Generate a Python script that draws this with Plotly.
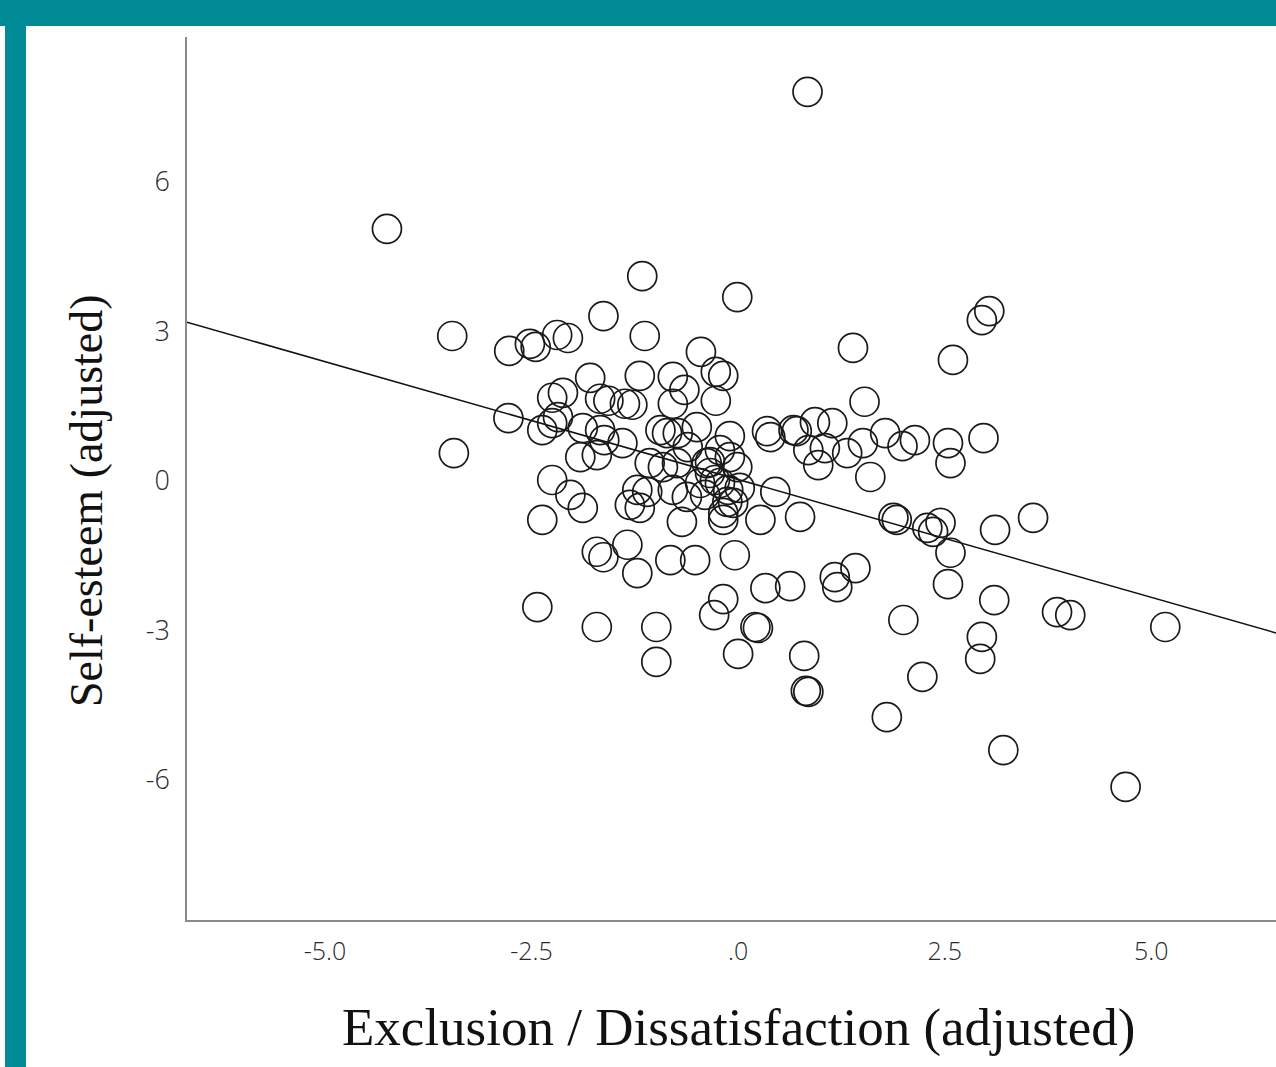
import plotly.graph_objects as go

# ---- data ----
exclusion = [
    0.84, -4.25, -3.46, -3.44, -1.16, -0.01, -1.63, -1.13,
    -2.77, -2.52, -2.45, -2.19, -2.06, -0.45, 1.39, 2.60, 2.95, 3.04,
    -1.79, -1.19, -0.79, -0.65, -0.27, -0.18,
    -2.25, -2.12, -1.67, -1.57, -1.37, -1.28, -0.79, -0.27, 1.53,
    -2.78, -2.37, -2.25, -2.18, -1.88, -1.67, -1.62, -1.40,
    -0.94, -0.86, -0.73, -0.50, -0.61, -0.10, 0.35, 0.39, 0.67, 0.71,
    0.93, 1.14, 0.85, 1.05, 0.97, 1.32, 1.51, 1.78, 1.99, 2.14, 2.54, 2.57, 2.97, 1.60,
    -1.91, -1.71, -1.07, -0.91, -0.74, -0.22, -0.10, -0.01, -0.34,
    -2.25, -2.03, -1.88, -2.37,
    -1.22, -1.10, -1.19, -1.31, -0.79, -0.62, -0.46, -0.34, -0.22, -0.12,
    -0.06, -0.13, -0.18, 0.02, -0.68, -0.18, 0.27, 0.45, 0.75,
    1.88, 1.92, 2.29, 2.45, 2.36, 3.11, 3.57,
    -1.34, -1.71, -1.63, -1.22, -0.82, -0.52, -0.04,
    0.33, 0.63, 1.17, 1.20, 1.42, 2.57, 2.54,
    -2.43, -1.71, -0.99, -0.99, -0.18, -0.29, 0.21, 0.24, 0.00,
    0.80, 0.82, 0.85, 1.80, 2.00, 2.23, 3.10, 2.95, 2.93,
    3.21, 3.86, 4.02, 5.17, 4.69,
    -0.38, -0.28, -0.40,
]
self_esteem = [
    7.81, 5.06, 2.91, 0.56, 4.11, 3.69, 3.31, 2.91,
    2.61, 2.75, 2.69, 2.93, 2.87, 2.59, 2.67, 2.43, 3.23, 3.41,
    2.07, 2.11, 2.09, 1.83, 2.19, 2.11,
    1.67, 1.77, 1.65, 1.61, 1.55, 1.53, 1.55, 1.61, 1.59,
    1.26, 1.02, 1.16, 1.28, 1.06, 1.02, 0.82, 0.76,
    1.02, 0.96, 0.96, 1.08, 0.68, 0.90, 1.00, 0.88, 1.02, 1.00,
    1.18, 1.16, 0.62, 0.66, 0.32, 0.56, 0.76, 0.96, 0.70, 0.82, 0.76, 0.36, 0.86, 0.08,
    0.48, 0.52, 0.36, 0.28, 0.36, 0.62, 0.48, 0.28, 0.38,
    0.02, -0.28, -0.54, -0.78,
    -0.18, -0.22, -0.54, -0.48, -0.18, -0.32, -0.04, 0.16, -0.04, -0.18,
    -0.44, -0.42, -0.64, -0.14, -0.82, -0.78, -0.78, -0.22, -0.72,
    -0.74, -0.78, -0.94, -0.84, -1.02, -0.98, -0.74,
    -1.28, -1.42, -1.53, -1.85, -1.59, -1.59, -1.49,
    -2.15, -2.11, -1.93, -2.13, -1.75, -1.44, -2.07,
    -2.53, -2.93, -2.93, -3.63, -2.37, -2.69, -2.93, -2.95, -3.47,
    -3.51, -4.21, -4.23, -4.74, -2.79, -3.93, -2.39, -3.13, -3.57,
    -5.40, -2.63, -2.69, -2.93, -6.14,
    0.36, 0.02, -0.28,
]

# linear fit line
fit_slope = -0.473
fit_intercept = 0.03

x_range = [-6.67, 6.51]
y_range = [-8.81, 8.91]

x_tickvals = [-5.0, -2.5, 0.0, 2.5, 5.0]
x_ticktext = ["-5.0", "-2.5", ".0", "2.5", "5.0"]
y_tickvals = [-6, -3, 0, 3, 6]
y_ticktext = ["-6", "-3", "0", "3", "6"]

x_title = "Exclusion / Dissatisfaction (adjusted)"
y_title = "Self-esteem (adjusted)"

# ---- figure ----
W, H = 1276, 1067
ML, MR, MT, MB = 187, 0, 37, 147
PW, PH = W - ML - MR, H - MT - MB


def px_x(p):
    return (p - ML) / PW


def px_y(p):
    return (H - MB - p) / PH


fig = go.Figure()

fit_x = x_range
fit_y = [fit_slope * v + fit_intercept for v in fit_x]
fig.add_trace(go.Scatter(
    x=fit_x, y=fit_y, mode="lines",
    line=dict(color="#111111", width=1.5),
    hoverinfo="skip", showlegend=False,
))

fig.add_trace(go.Scatter(
    x=exclusion, y=self_esteem, mode="markers",
    marker=dict(symbol="circle-open", size=29, color="#1a1a1a",
                line=dict(width=1.7, color="#1a1a1a")),
    showlegend=False,
))

teal = "#028a96"
shapes = [
    dict(type="rect", xref="paper", yref="paper",
         x0=px_x(0), x1=px_x(W), y0=px_y(26), y1=px_y(0),
         fillcolor=teal, line=dict(width=0), layer="above"),
    dict(type="rect", xref="paper", yref="paper",
         x0=px_x(5), x1=px_x(26), y0=px_y(H), y1=px_y(0),
         fillcolor=teal, line=dict(width=0), layer="above"),
]

annotations = [
    dict(text=x_title, xref="paper", yref="paper",
         x=px_x(738), y=px_y(1027), xanchor="center", yanchor="middle",
         showarrow=False,
         font=dict(family="Liberation Serif, Times New Roman, serif",
                   size=53, color="#111111")),
    dict(text=y_title, xref="paper", yref="paper",
         x=px_x(86), y=px_y(501), xanchor="center", yanchor="middle",
         textangle=-90, showarrow=False,
         font=dict(family="Liberation Serif, Times New Roman, serif",
                   size=46, color="#111111")),
]

fig.update_layout(
    width=W, height=H,
    margin=dict(l=ML, r=MR, t=MT, b=MB, pad=0),
    paper_bgcolor="white", plot_bgcolor="white",
    shapes=shapes, annotations=annotations,
    showlegend=False,
)

tick_font_family = "Open Sans, DejaVu Sans, sans-serif"
fig.update_xaxes(
    range=x_range, showgrid=False, zeroline=False,
    showline=True, linecolor="#8a8a8a", linewidth=1.5,
    tickvals=x_tickvals, ticktext=x_ticktext,
    ticks="", ticklabelstandoff=8,
    tickfont=dict(family=tick_font_family, size=25, color="#2a2a2a", weight=300),
)
fig.update_yaxes(
    range=y_range, showgrid=False, zeroline=False,
    showline=True, linecolor="#8a8a8a", linewidth=1.5,
    tickvals=y_tickvals, ticktext=y_ticktext,
    ticks="", ticklabelstandoff=10,
    tickfont=dict(family=tick_font_family, size=27, color="#2a2a2a", weight=300),
)

fig.write_html(
    "out.html",
    config={"displayModeBar": False},
    post_script="document.body.style.margin='0';document.body.style.overflow='hidden';",
)
